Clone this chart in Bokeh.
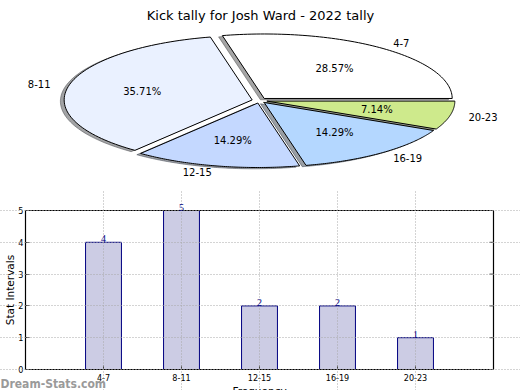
import numpy as np
from bokeh.plotting import figure
from bokeh.models import (Range1d, Label, LabelSet, ColumnDataSource, FixedTicker)
from bokeh.layouts import column
from bokeh.embed import file_html
from bokeh.resources import INLINE
from bokeh.core.properties import value

# ---------------- data ----------------
title = "Kick tally for Josh Ward - 2022 tally"
categories = ["4-7", "8-11", "12-15", "16-19", "20-23"]
counts = [4, 5, 2, 2, 1]
pie_colors = ["#ffffff", "#eaf1ff", "#c4d8ff", "#b4d7ff", "#ceea8c"]
y_ticks = [0, 1, 2, 3, 4, 5]
y_label = "Stat Intervals"
x_label = "Frequency"
watermark = "Dream-Stats.com"

FONT = "DejaVu Sans"
COND = "DejaVu Sans Condensed"

# ---------------- pie ----------------
W = 520
PIE_H = 190
BAR_H = 200
cx, cy = 259, 100         # pie centre in figure pixels (from top-left)
rx, ry = 188, 64.5        # pie radii in pixels
explode = 0.04
shadow_off = 0.02

pie = figure(width=W, height=PIE_H,
             x_range=Range1d(-cx / rx, (W - cx) / rx),
             y_range=Range1d(-(PIE_H - cy) / ry, cy / ry),
             x_axis_type=None, y_axis_type=None,
             output_backend="svg", toolbar_location=None,
             min_border=0)
pie.grid.visible = False
pie.outline_line_color = None

vals = np.array(counts, dtype=float)
frac = vals / vals.sum()
edges = np.concatenate([[0.0], np.cumsum(frac)]) * 2 * np.pi

xs, ys, sxs, sys_, scol = [], [], [], [], []
label_info = []
for i, cat in enumerate(categories):
    t1, t2 = edges[i], edges[i + 1]
    mid = 0.5 * (t1 + t2)
    ox, oy = explode * np.cos(mid), explode * np.sin(mid)
    t = np.linspace(t1, t2, 80)
    px = np.concatenate([[ox], ox + np.cos(t)])
    py = np.concatenate([[oy], oy + np.sin(t)])
    xs.append(list(px)); ys.append(list(py))
    sxs.append(list(px - shadow_off)); sys_.append(list(py - shadow_off))
    c = pie_colors[i].lstrip("#")
    rgb = [int(c[k:k + 2], 16) for k in (0, 2, 4)]
    scol.append("#%02x%02x%02x" % tuple(int(0.3 * v) for v in rgb))
    label_info.append((cat, ox, oy, mid, frac[i]))

pie.patches(sxs, sys_, fill_color=scol, fill_alpha=0.5, line_color=scol, line_alpha=0.5)
pie.patches(xs, ys, fill_color=pie_colors, line_color="black", line_width=1)

for cat, ox, oy, mid, f in label_info:
    lx = ox + 1.1 * np.cos(mid)
    ly = oy + 1.1 * np.sin(mid)
    pie.text(x=[lx], y=[ly], text=[cat], text_align="left" if lx > 0 else "right",
             text_baseline="middle", text_font=value(FONT), text_font_size="10px",
             text_color="black")
    qx = ox + 0.6 * np.cos(mid)
    qy = oy + 0.6 * np.sin(mid)
    pie.text(x=[qx], y=[qy], text=["%.2f%%" % (100 * f)], text_align="center",
             text_baseline="middle", text_font=value(FONT), text_font_size="10px",
             text_color="black")

pie.add_layout(Label(x=(W / 2 - cx) / rx, y=(cy - 15) / ry, text=title,
                     text_align="center", text_baseline="alphabetic",
                     text_font=FONT, text_font_size="13px", text_color="black"))

# ---------------- bar chart ----------------
n = len(categories)
positions = [i + 1 for i in range(n)]
X_MIN, X_MAX = 0, n + 1
Y_MAX = max(y_ticks)
BOX_L, BOX_R, BOX_T, BOX_B = 25, 493, 20, 179     # box edges in figure pixels
ppx = (BOX_R - BOX_L) / (X_MAX - X_MIN)
ppy = (BOX_B - BOX_T) / Y_MAX

bar = figure(width=W, height=BAR_H,
             x_range=Range1d(X_MIN - BOX_L / ppx, X_MAX + (W - BOX_R) / ppx),
             y_range=Range1d(-(BAR_H - BOX_B) / ppy, Y_MAX + BOX_T / ppy),
             output_backend="svg", toolbar_location=None, min_border=0)
bar.outline_line_color = None

src = ColumnDataSource(dict(pos=positions, n=counts, txt=[str(c) for c in counts]))
bar.vbar(x="pos", top="n", width=0.46, source=src,
         fill_color="#ccccE4", line_color="#000080", line_width=1)

for g in (bar.xgrid, bar.ygrid):
    g.grid_line_color = "#a8a8a8"
    g.grid_line_dash = "1 2"
    g.grid_line_width = 1
    g.level = "guide"
bar.xgrid.ticker = FixedTicker(ticks=positions)
bar.xgrid.bounds = (0, Y_MAX)
bar.ygrid.ticker = FixedTicker(ticks=y_ticks)
bar.ygrid.bounds = (X_MIN, X_MAX)

# box around the plotting area
bar.quad(left=[X_MIN], right=[X_MAX], bottom=[0], top=[Y_MAX],
         fill_color=None, line_color="black", line_width=1.2)
# inward ticks on the right side
bar.ray(x=[X_MAX] * len(y_ticks), y=y_ticks, length=4, length_units="screen",
        angle=np.pi, line_color="#444444", line_width=1)

bar.xaxis.ticker = FixedTicker(ticks=positions)
bar.xaxis.major_label_overrides = {p: c for p, c in zip(positions, categories)}
bar.xaxis.fixed_location = 0
bar.xaxis.bounds = (X_MIN, X_MAX)
bar.yaxis.ticker = FixedTicker(ticks=y_ticks)
bar.yaxis.fixed_location = X_MIN
bar.yaxis.bounds = (0, Y_MAX)
for ax in (bar.xaxis, bar.yaxis):
    ax.major_tick_in = 4
    ax.major_tick_out = 0
    ax.minor_tick_in = 0
    ax.minor_tick_out = 0
    ax.major_label_standoff = 2
    ax.major_label_text_font = COND
    ax.major_label_text_font_size = "9px"
    ax.major_label_text_color = "black"
    ax.axis_line_color = None
    ax.major_tick_line_color = "#444444"
bar.xaxis.major_label_standoff = 4

bar.add_layout(LabelSet(x="pos", y="n", text="txt", source=src,
                        text_align="center", text_baseline="alphabetic",
                        text_font=FONT, text_font_size="10px", text_color="#000080"))

bar.add_layout(Label(x=X_MIN + (9 - BOX_L) / ppx, y=Y_MAX / 2, text=y_label,
                     angle=np.pi / 2, text_align="center", text_baseline="middle",
                     text_font=FONT, text_font_size="10.5px", text_color="black"))
bar.add_layout(Label(x=(X_MIN + X_MAX) / 2, y=-15 / ppy, text=x_label,
                     text_align="center", text_baseline="top",
                     text_font=FONT, text_font_size="10.5px", text_color="black"))
bar.add_layout(Label(x=X_MIN - BOX_L / ppx, y=-14 / ppy, text=watermark,
                     text_align="left", text_baseline="alphabetic",
                     text_font=COND, text_font_size="12px", text_font_style="bold",
                     text_color="#9a9a9a"))

layout = column(pie, bar, spacing=0)
open("out.html", "w").write(file_html(layout, INLINE))
